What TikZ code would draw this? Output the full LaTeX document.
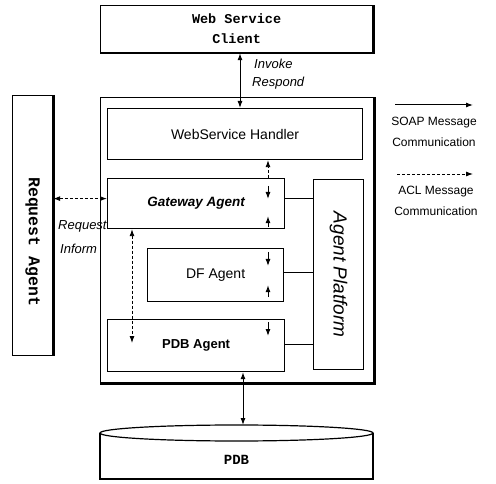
\documentclass[tikz,border=0pt]{standalone}
\usepackage{fontspec}
\setmainfont{Liberation Sans}
\newfontfamily\monof{Liberation Mono}
\usetikzlibrary{arrows.meta,calc}
\tikzset{
  box/.style={draw, line width=1.2pt, anchor=north west, inner sep=0pt, align=center},
  mono/.style={font=\monof\bfseries\fontsize{13.5}{20}\selectfont},
  hand/.style={font=\fontsize{14}{16}\selectfont},
  lbl/.style={font=\itshape\fontsize{13}{15}\selectfont, inner sep=0pt},
  legend/.style={font=\fontsize{12}{14}\selectfont, inner sep=0pt},
  soap/.style={line width=1pt, {Latex[length=7pt,width=5pt]}-{Latex[length=7pt,width=5pt]}},
  acl/.style={line width=0.9pt, dash pattern=on 3pt off 2pt, {Latex[length=7pt,width=5pt]}-{Latex[length=7pt,width=5pt]}},
  tiny/.style={line width=1pt, -{Latex[length=7pt,width=5pt]}},
  shadow/.style={line width=2.6pt},
}
\begin{document}
\begin{tikzpicture}[x=1pt,y=-1pt]
\useasboundingbox (0,0) rectangle (496,484);
% client
\node[box, mono, minimum width=272pt, minimum height=47pt] (client) at (100,5) {Web Service\\Client};
\draw[shadow] (client.south west) -- (client.south east) -- (client.north east);
% platform
\node[box, minimum width=273pt, minimum height=285pt] (plat) at (100,97) {};
\draw[shadow] (plat.south west) -- (plat.south east) -- (plat.north east);
% handler
\node[box, hand, minimum width=255pt, minimum height=51pt] (hand) at (107,108) {WebService Handler};
% agents
\node[box, font=\bfseries\itshape\fontsize{13.5}{16}\selectfont, minimum width=177pt, minimum height=50pt] (gw) at (107,178) {Gateway Agent};
\node[box, hand, minimum width=136pt, minimum height=53pt] (df) at (147,248) {DF Agent};
\node[box, font=\bfseries\fontsize{13}{16}\selectfont, minimum width=177pt, minimum height=52pt] (pdba) at (107,319) {PDB Agent};
\node[box, minimum width=50pt, minimum height=190pt] (ap) at (313,179) {};
\node[font=\itshape\fontsize{19}{20}\selectfont, rotate=-90] (aptext) at (ap.center) {Agent Platform};
% request agent
\node[box, minimum width=40pt, minimum height=260pt] (ra) at (12,95) {};
\draw[shadow] (ra.north east) -- (ra.south east);
\node[font=\monof\bfseries\fontsize{16.5}{18}\selectfont, rotate=-90] (ratext) at ($(ra.center)+(0,16)$) {Request Agent};
% database
\coordinate (dbtop) at (243,425);
\draw[line width=1.2pt] (100,433) -- (100,479) -- (373,479) -- (373,433);
\draw[line width=1.2pt] (236.5,433) ellipse [x radius=136.5pt, y radius=8pt];
\node[font=\monof\bfseries\fontsize{14}{16}\selectfont] (db) at (236.5,460) {PDB};
% SOAP connectors
\draw[soap] ($(client.south west)+(140,0)$) -- ($(hand.north west)+(133,0)$);
\node[lbl, anchor=west] (inv) at (254,64) {Invoke};
\node[lbl, anchor=west] (resp) at (252,83) {Respond};
\draw[soap] ($(pdba.south west)+(136,0)$) -- (dbtop);
% ACL connectors
\draw[acl] ($(ra.east)+(0,-27)$) -- ($(gw.west)+(0,-5)$);
\node[lbl, anchor=west] (req) at (58,226) {Request};
\node[lbl, anchor=west] (inf) at (60,249) {Inform};
\draw[line width=0.9pt, dash pattern=on 3pt off 2pt, -{Latex[length=7pt,width=5pt]}] ($(gw.north west)+(161,0)$) -- ($(hand.south west)+(161,0)$);
\draw[acl] ($(gw.south west)+(25,0)$) -- ($(pdba.north west)+(25,24)$);
% small arrowheads inside agents
\draw[tiny] ($(gw.north west)+(161,8)$) -- ($(gw.north west)+(161,21)$);
\draw[tiny] ($(gw.south west)+(161,-2)$) -- ($(gw.south west)+(161,-13)$);
\draw[tiny] ($(df.north west)+(121,4)$) -- ($(df.north west)+(121,18)$);
\draw[tiny] ($(df.south west)+(121,-5)$) -- ($(df.south west)+(121,-17)$);
\draw[tiny] ($(pdba.north west)+(161,3)$) -- ($(pdba.north west)+(161,17)$);
% agent platform links
\draw[line width=0.9pt] ($(gw.east)+(0,-5)$) -- ($(ap.west |- gw.east)+(0,-5)$);
\draw[line width=0.9pt] ($(df.east)+(0,-2.5)$) -- ($(ap.west |- df.east)+(0,-2.5)$);
\draw[line width=0.9pt] ($(pdba.east)+(0,-1)$) -- ($(ap.west |- pdba.east)+(0,-1)$);
% legend
\coordinate (s1) at (395,105); \coordinate (s2) at (473,105);
\draw[line width=1pt, -{Latex[length=7pt,width=5pt]}] (s1) -- (s2);
\node[legend] (st1) at (434,123) {SOAP Message};
\node[legend] (st2) at (434,142) {Communication};
\coordinate (a1) at (397,174); \coordinate (a2) at (473,174);
\draw[line width=0.9pt, dash pattern=on 3pt off 2pt, -{Latex[length=7pt,width=5pt]}] (a1) -- (a2);
\node[legend] (at1) at (436,192) {ACL Message};
\node[legend] (at2) at (436,211) {Communication};
\end{tikzpicture}
\end{document}
